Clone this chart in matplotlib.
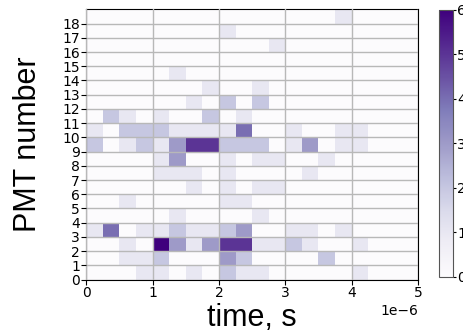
import numpy as np
import matplotlib
matplotlib.use("Agg")
import matplotlib.pyplot as plt

# ---- data ----
n_pmt = 19
time_min, time_max, n_time_bins = 0.0, 5e-6, 20
pmt_numbers = list(range(n_pmt))

# counts per PMT: {time_bin: count}
counts_by_pmt = {
    0: {3: 1, 4: 1, 6: 1, 8: 2, 9: 1, 10: 1, 16: 1},
    1: {2: 1, 3: 1, 4: 2, 8: 3, 9: 2, 14: 2},
    2: {2: 1, 4: 6, 5: 3, 6: 1, 7: 3, 8: 5, 9: 5, 10: 1, 11: 1, 12: 2, 13: 1, 16: 1},
    3: {0: 1, 1: 4, 3: 1, 4: 1, 5: 2, 6: 1, 7: 1, 8: 2, 9: 3, 12: 1, 13: 1, 15: 1},
    4: {5: 1, 10: 1},
    5: {2: 1, 8: 1, 9: 1},
    6: {6: 1, 8: 1, 10: 1, 11: 1},
    7: {4: 1, 5: 1, 6: 1, 8: 1, 13: 1},
    8: {4: 1, 5: 3, 8: 1, 10: 1, 11: 1, 14: 1},
    9: {0: 2, 2: 1, 3: 2, 4: 1, 5: 3, 6: 5, 7: 5, 8: 2, 9: 2, 10: 2, 12: 1, 13: 3, 15: 1, 16: 1},
    10: {0: 1, 2: 2, 3: 2, 4: 2, 5: 1, 6: 1, 7: 1, 8: 1, 9: 4, 12: 1, 15: 1, 16: 1},
    11: {1: 2, 2: 1, 4: 1, 7: 2, 9: 1},
    12: {6: 1, 8: 2, 10: 2},
    13: {7: 1, 10: 1},
    14: {5: 1},
    15: {},
    16: {11: 1},
    17: {8: 1},
    18: {15: 1},
}

counts = np.zeros((n_pmt, n_time_bins))
for p, row in counts_by_pmt.items():
    for b, c in row.items():
        counts[p, b] = c

time_edges = np.linspace(time_min, time_max, n_time_bins + 1)
pmt_edges = np.arange(n_pmt + 1)

# ---- plot ----
fig = plt.figure(figsize=(4.63, 3.36), dpi=100)
ax = fig.add_axes([0.186, 0.168, 0.717, 0.804])
cax = fig.add_axes([0.948, 0.176, 0.030, 0.795])

mesh = ax.pcolormesh(time_edges, pmt_edges, counts, cmap="Purples", vmin=0, vmax=6)
ax.set_xlim(time_min, time_max)
ax.set_ylim(0, n_pmt)
ax.set_yticks(pmt_numbers)
ax.set_yticklabels([str(p) for p in pmt_numbers])
ax.tick_params(labelsize=10, pad=1)
ax.xaxis.get_offset_text().set_fontsize(10)
ax.grid(True, color="#b8b8b8", linewidth=1.0)
ax.set_axisbelow(False)

ax.set_xlabel("time, s", fontsize=22, family="Liberation Sans", labelpad=2)
ax.set_ylabel("PMT number", fontsize=22, family="Liberation Sans", labelpad=14)

cb = fig.colorbar(mesh, cax=cax)
cb.set_ticks(range(0, 7))
cb.ax.tick_params(labelsize=10, length=2, pad=1)
cb.outline.set_edgecolor("#555555")

fig.savefig("out.png", dpi=100)
